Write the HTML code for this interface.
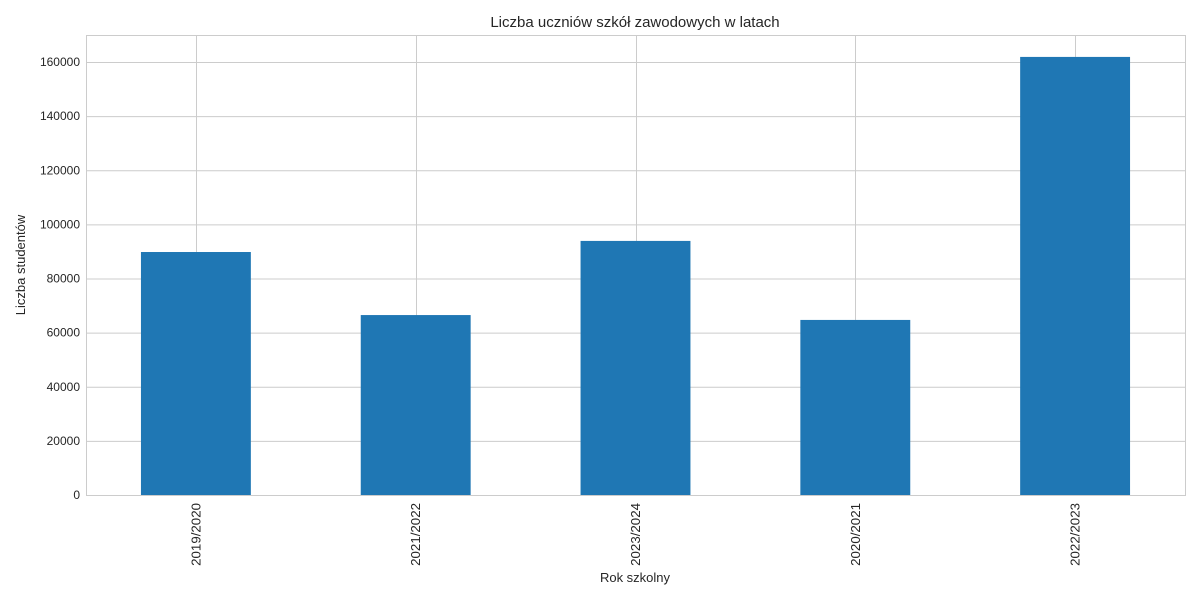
<!DOCTYPE html>
<html><head><meta charset="utf-8"><style>
body{margin:0;background:#fff;font-family:"Liberation Sans","DejaVu Sans",sans-serif;}
</style></head><body>
<svg id="chart" width="1200" height="600" xmlns="http://www.w3.org/2000/svg">
<rect width="1200" height="600" fill="#fff"/>
<g id="grid"></g><g id="bars"></g><g id="ticks"></g>
<rect x="86.5" y="35.5" width="1099" height="460" fill="none" stroke="#cccccc" stroke-width="1"/>
<text x="635" y="27" text-anchor="middle" font-size="15" fill="#262626">Liczba uczniów szkół zawodowych w latach</text>
<text x="635" y="582" text-anchor="middle" font-size="13" fill="#262626">Rok szkolny</text>
<text transform="translate(25,265) rotate(-90)" text-anchor="middle" font-size="13" fill="#262626">Liczba studentów</text>
</svg>
<script>
const categories=["2019/2020","2021/2022","2023/2024","2020/2021","2022/2023"];
const values=[89800,66500,93900,64700,161900];
const yTicks=[0,20000,40000,60000,80000,100000,120000,140000,160000];
const NS="http://www.w3.org/2000/svg";
const L=86,R=1185,T=35,B=495,YMAX=170000;
const y=v=>B-(v/YMAX)*(B-T);
const step=(R-L)/categories.length;
const x=i=>L+step*(i+0.5);
function mk(tag,attrs,parent){const e=document.createElementNS(NS,tag);for(const k in attrs)e.setAttribute(k,attrs[k]);document.getElementById(parent).appendChild(e);return e;}
yTicks.forEach(t=>{
  const l=mk("line",{x1:L,x2:R,y1:y(t)+0.5,y2:y(t)+0.5,stroke:"#cccccc","stroke-width":1},"grid");
  
  
  const tx=mk("text",{x:L-6,y:y(t)+4,"text-anchor":"end","font-size":12,fill:"#262626"},"ticks");
  tx.textContent=t;
  
  
});
categories.forEach((c,i)=>{
  const g=mk("line",{x1:Math.round(x(i))+0.5,x2:Math.round(x(i))+0.5,y1:T,y2:B,stroke:"#cccccc","stroke-width":1},"grid");
  
  
  const w=step*0.5;
  const b=mk("rect",{x:x(i)-w/2,y:y(values[i]),width:w,height:B-y(values[i]),fill:"#1f77b4"},"bars");
  
  
  const tx=mk("text",{transform:`translate(${x(i)+4.5},${B+8}) rotate(-90)`,"text-anchor":"end","font-size":13.3,fill:"#262626"},"ticks");
  tx.textContent=c;
  
  
});
</script>
</body></html>
